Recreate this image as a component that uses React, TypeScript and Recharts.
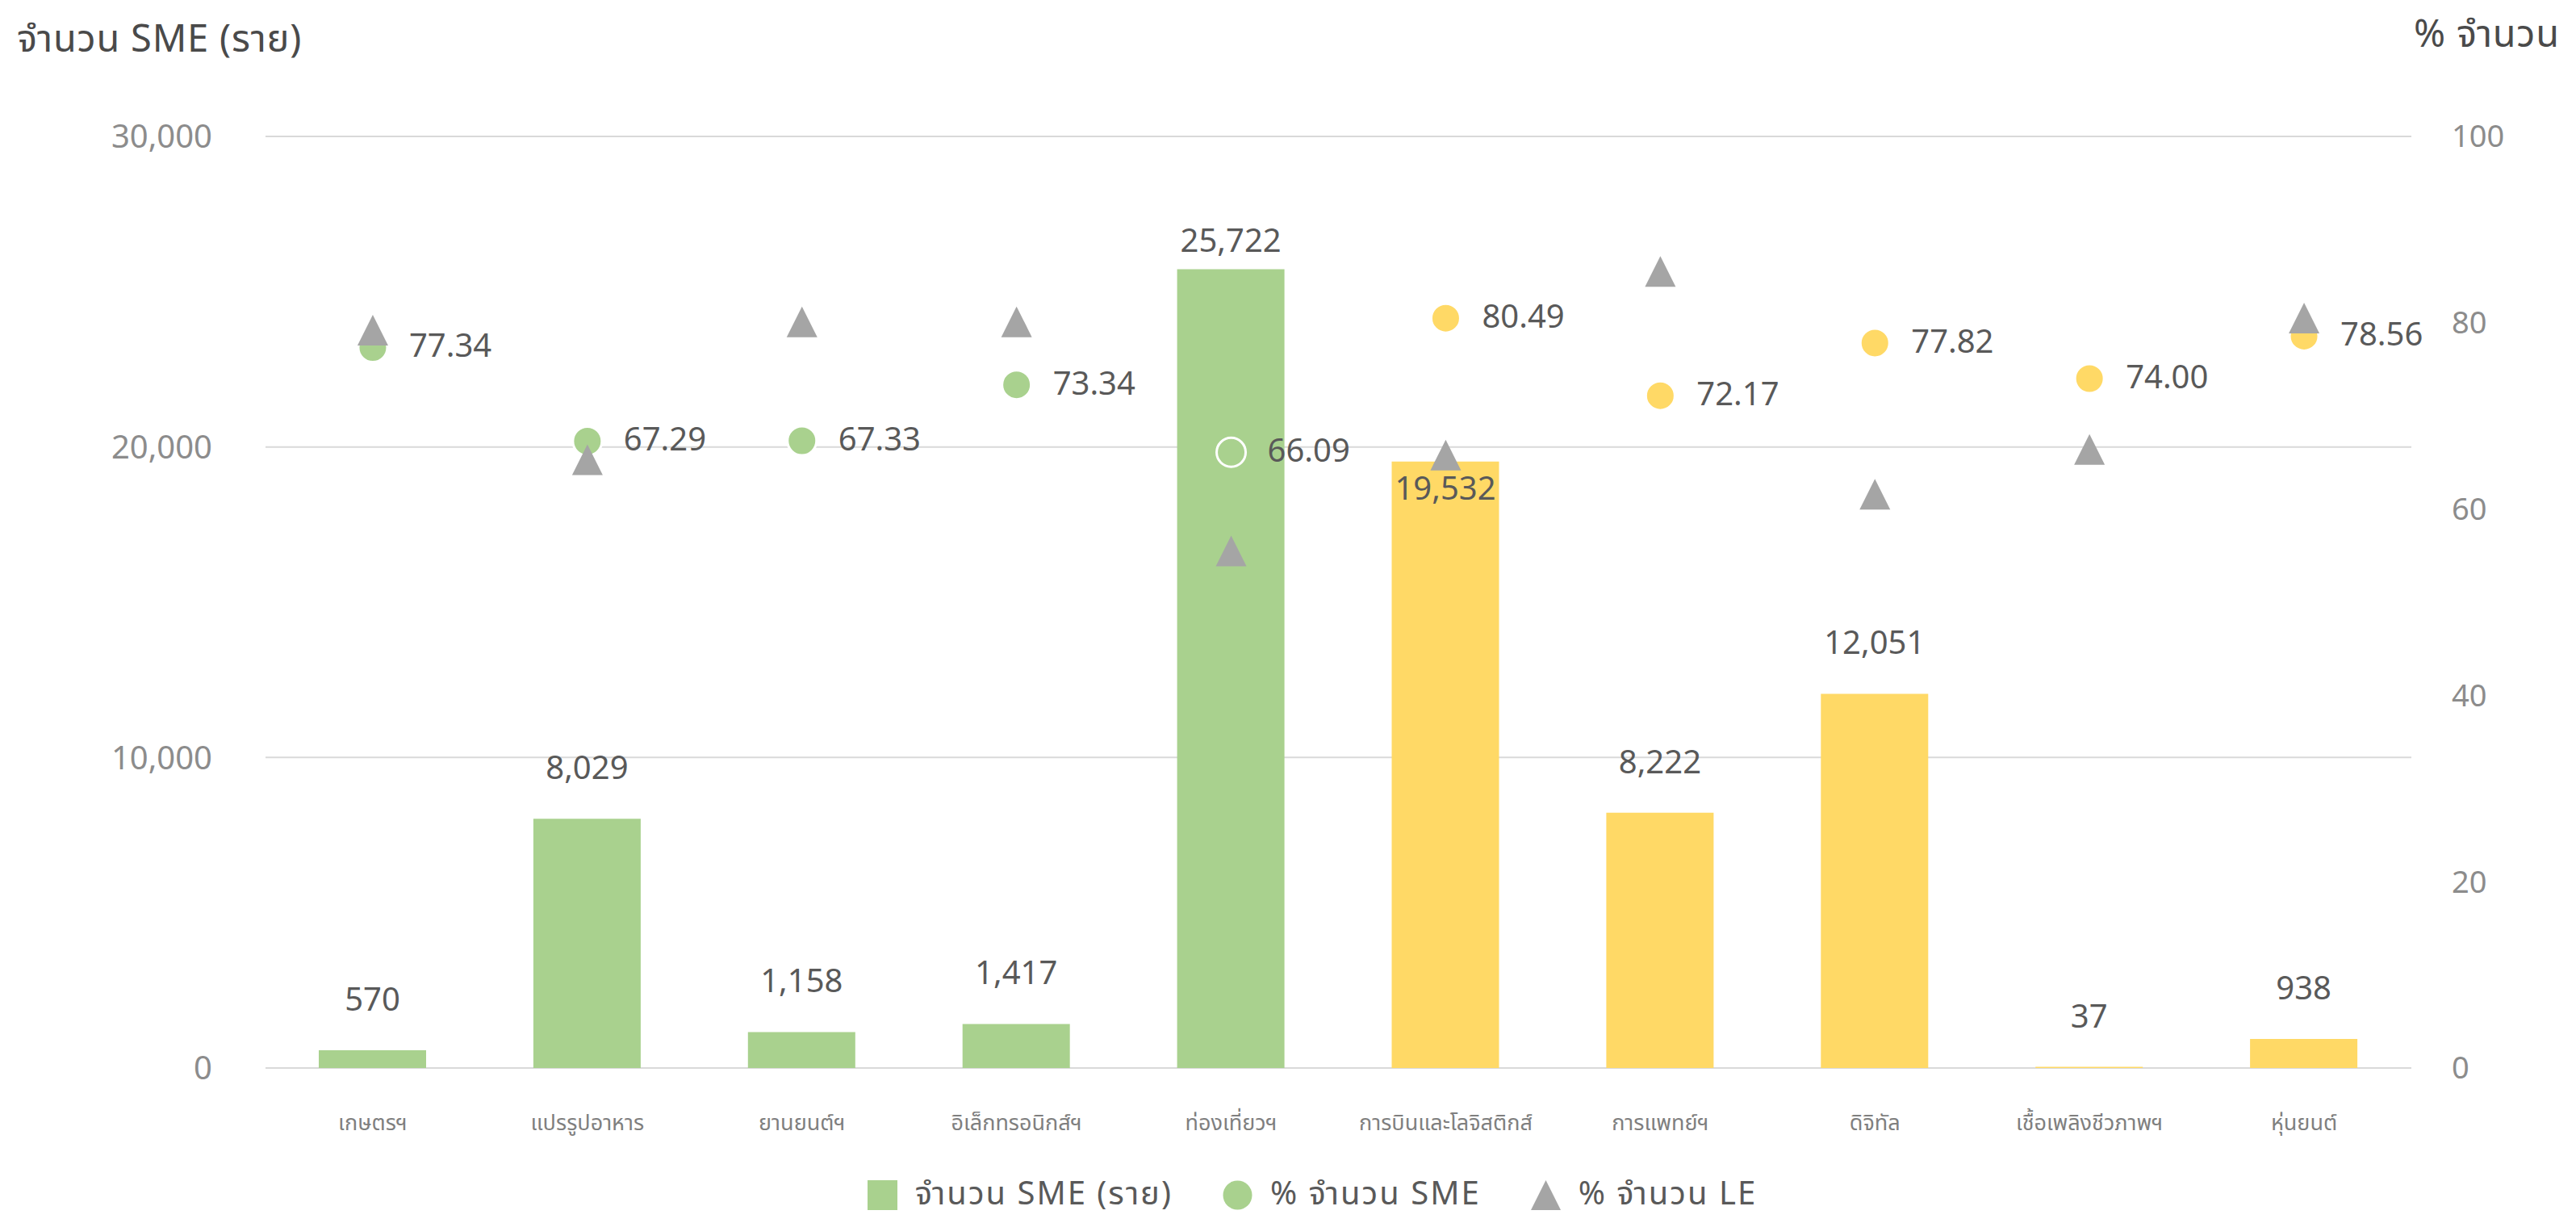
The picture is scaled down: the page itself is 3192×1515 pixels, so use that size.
import React from 'react';
import { ComposedChart, Bar, Line, XAxis, YAxis, CartesianGrid, Legend, Cell, LabelList } from 'recharts';

const categories = ['เกษตรฯ', 'แปรรูปอาหาร', 'ยานยนต์ฯ', 'อิเล็กทรอนิกส์ฯ', 'ท่องเที่ยวฯ', 'การบินและโลจิสติกส์', 'การแพทย์ฯ', 'ดิจิทัล', 'เชื้อเพลิงชีวภาพฯ', 'หุ่นยนต์'];
const industryGroup = ['first', 'first', 'first', 'first', 'first', 'new', 'new', 'new', 'new', 'new'];
const smeCount = [570, 8029, 1158, 1417, 25722, 19532, 8222, 12051, 37, 938];
const smePercent = [77.34, 67.29, 67.33, 73.34, 66.09, 80.49, 72.17, 77.82, 74.0, 78.56];
const lePercent = [79.2, 65.3, 80.1, 80.1, 55.5, 65.8, 85.5, 61.6, 66.4, 80.5];
const leftTicks = [0, 10000, 20000, 30000];
const rightTicks = [0, 20, 40, 60, 80, 100];

const seriesNames = ['จำนวน SME (ราย)', '% จำนวน SME', '% จำนวน LE'];
const leftTitle = 'จำนวน SME (ราย)';
const rightTitle = '% จำนวน';

const GREEN = '#A9D18E';
const YELLOW = '#FFD966';
const GRAY = '#A5A5A5';
const groupColor = (g: string) => (g === 'first' ? GREEN : YELLOW);

const FONT = "'Noto Sans Thai', 'Leelawadee UI', 'Noto Sans', 'DejaVu Sans', sans-serif";

const data = categories.map((name, i) => ({
  name,
  group: industryGroup[i],
  sme: smeCount[i],
  smePct: smePercent[i],
  lePct: lePercent[i],
}));

const fmtInt = (v: number) => v.toLocaleString('en-US');

const barLabel = (props: any) => {
  const { x, y, width, value, index } = props;
  const cx = Number(x) + Number(width) / 2;
  let dy = -61;
  if (index === 4) dy = -34;
  if (index === 5) dy = 35;
  return (
    <text x={cx} y={Number(y) + dy} textAnchor="middle" dominantBaseline="central" fontSize={40} fill="#595959" fontFamily={FONT}>
      {fmtInt(Number(value))}
    </text>
  );
};

const pctLabel = (props: any) => {
  const { x, y, value } = props;
  return (
    <text x={Number(x) + 45} y={Number(y)} textAnchor="start" dominantBaseline="central" fontSize={40} fill="#595959" fontFamily={FONT}>
      {Number(value).toFixed(2)}
    </text>
  );
};

const circleDot = (props: any) => {
  const { cx, cy, index, payload } = props;
  if (cx == null || cy == null) return <g key={`c${index}`} />;
  return <circle key={`c${index}`} cx={cx} cy={cy} r={18} fill={groupColor(payload.group)} stroke="#ffffff" strokeWidth={3} />;
};

const triDot = (props: any) => {
  const { cx, cy, index } = props;
  if (cx == null || cy == null) return <g key={`t${index}`} />;
  const h = 38;
  const w = 38;
  const d = `M${cx},${cy - h / 2} L${cx + w / 2},${cy + h / 2} L${cx - w / 2},${cy + h / 2} Z`;
  return <path key={`t${index}`} d={d} fill={GRAY} />;
};

const xTick = (props: any) => {
  const { x, y, payload } = props;
  return (
    <text x={x} y={Number(y) + 77} textAnchor="middle" fontSize={27} fill="#7f7f7f" fontFamily={FONT}>
      {payload.value}
    </text>
  );
};

const leftTitleLabel = () => (
  <text x={21} y={64} fontSize={47} letterSpacing={0.8} fill="#4a4a4a" fontFamily={FONT}>{leftTitle}</text>
);
const rightTitleLabel = () => (
  <text x={2991} y={58} fontSize={47} letterSpacing={0.8} fill="#4a4a4a" fontFamily={FONT}>{rightTitle}</text>
);

const legendContent = () => {
  const item: React.CSSProperties = { display: 'flex', alignItems: 'center', marginRight: 62 };
  const txt: React.CSSProperties = { fontSize: 40, lineHeight: '44px', letterSpacing: 2.0, color: '#595959', fontFamily: FONT, marginLeft: 22, whiteSpace: 'nowrap' };
  return (
    <div style={{ display: 'flex', justifyContent: 'center', alignItems: 'center', height: 44, paddingLeft: 60 }}>
      <div style={item}>
        <svg width={37} height={37}><rect x={0} y={0} width={37} height={37} fill={GREEN} /></svg>
        <span style={txt}>{seriesNames[0]}</span>
      </div>
      <div style={item}>
        <svg width={37} height={37}><circle cx={18.5} cy={18.5} r={18} fill={GREEN} /></svg>
        <span style={txt}>{seriesNames[1]}</span>
      </div>
      <div style={{ ...item, marginRight: 0 }}>
        <svg width={37} height={37}><path d="M18.5,0 L37,37 L0,37 Z" fill={GRAY} /></svg>
        <span style={txt}>{seriesNames[2]}</span>
      </div>
    </div>
  );
};

export default function App() {
  return (
    <div style={{ position: 'absolute', left: 0, top: 0, width: 3192, height: 1515, background: '#ffffff', overflow: 'hidden' }}>
      <ComposedChart
        width={3192}
        height={1515}
        data={data}
        margin={{ top: 169, right: 0, left: 0, bottom: 112 }}
      >
        <CartesianGrid yAxisId="left" vertical={false} stroke="#d9d9d9" strokeWidth={2} />
        <XAxis dataKey="name" axisLine={false} tickLine={false} tickSize={0} tickMargin={0} height={80} tick={xTick} interval={0} />
        <YAxis
          yAxisId="left"
          domain={[0, 30000]}
          ticks={leftTicks}
          tickFormatter={fmtInt}
          axisLine={false}
          tickLine={false}
          tickSize={0}
          tickMargin={66}
          width={329}
          tick={{ fontSize: 40, fill: '#8c8c8c', fontFamily: FONT }}
          label={{ content: leftTitleLabel }}
        />
        <YAxis
          yAxisId="right"
          orientation="right"
          domain={[0, 100]}
          ticks={rightTicks}
          axisLine={false}
          tickLine={false}
          tickSize={0}
          tickMargin={50}
          width={204}
          tick={{ fontSize: 38, fill: '#8c8c8c', fontFamily: FONT }}
          label={{ content: rightTitleLabel }}
        />
        <Bar yAxisId="left" dataKey="sme" name={seriesNames[0]} barSize={133} isAnimationActive={false}>
          {data.map((d, i) => (
            <Cell key={`cell-${i}`} fill={groupColor(d.group)} />
          ))}
          <LabelList dataKey="sme" content={barLabel} />
        </Bar>
        <Line yAxisId="right" dataKey="smePct" name={seriesNames[1]} stroke="none" dot={circleDot} activeDot={false} isAnimationActive={false}>
          <LabelList dataKey="smePct" content={pctLabel} />
        </Line>
        <Line yAxisId="right" dataKey="lePct" name={seriesNames[2]} stroke="none" dot={triDot} activeDot={false} isAnimationActive={false} />
        <Legend
          layout="horizontal"
          verticalAlign="middle"
          align="center"
          content={legendContent}
          wrapperStyle={{ top: 1458, left: 0, width: 3192 }}
        />
      </ComposedChart>
    </div>
  );
}
